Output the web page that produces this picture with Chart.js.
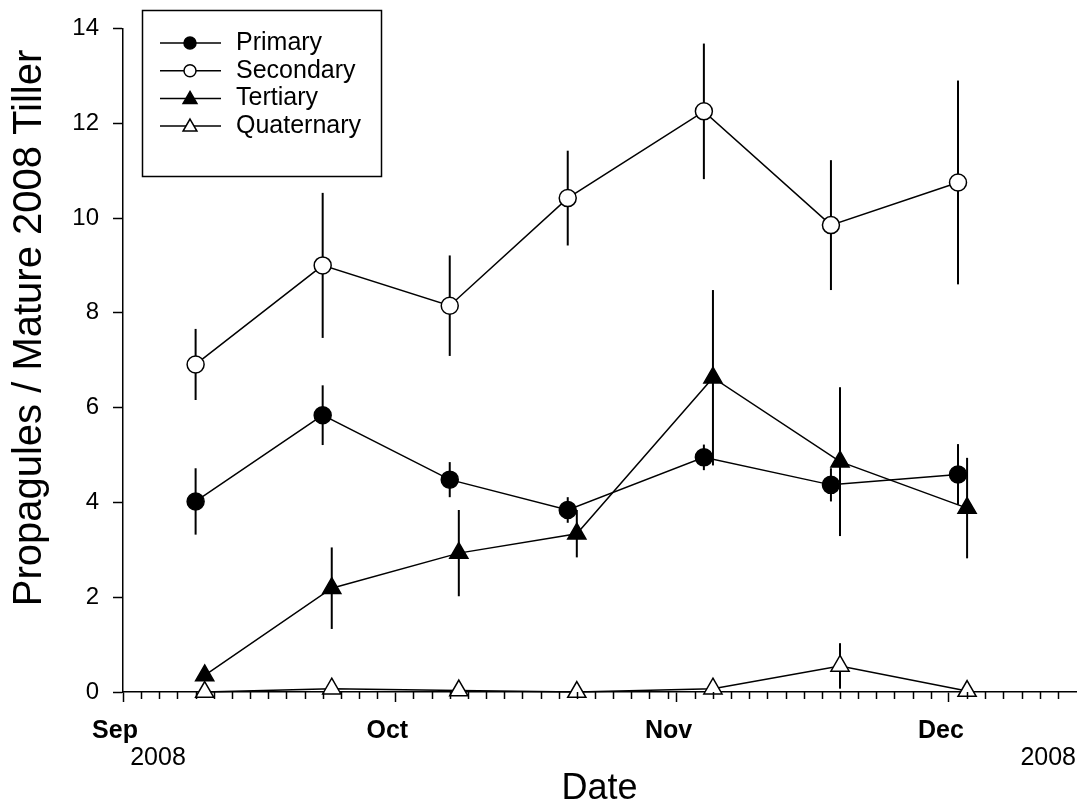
<!DOCTYPE html>
<html>
<head>
<meta charset="utf-8">
<script src="https://cdn.jsdelivr.net/npm/chart.js@4.4.1/dist/chart.umd.min.js"></script>
<style>
  html, body { margin: 0; padding: 0; background: #ffffff; }
  #c { display: block; }
</style>
</head>
<body>
<canvas id="c" width="1088" height="811"></canvas>
<script>
// ---- data ----
const startDate = '2008-09-01';
const endDate = '2008-12-15';
const monthStarts = ['2008-09-01', '2008-10-01', '2008-11-01', '2008-12-01'];
const monthLabels = ['Sep', 'Oct', 'Nov', 'Dec'];
const yearLabel = '2008';
const yTicksMax = 14;
const yTickStep = 2;

// sampling dates (primary/secondary counted one day before tertiary/quaternary)
const datesEarly = ['2008-09-09', '2008-09-23', '2008-10-07', '2008-10-20', '2008-11-04', '2008-11-18', '2008-12-02'];
const datesLate  = ['2008-09-10', '2008-09-24', '2008-10-08', '2008-10-21', '2008-11-05', '2008-11-19', '2008-12-03'];

const seriesNames = ['Primary', 'Secondary', 'Tertiary', 'Quaternary'];
const primary       = [4.02, 5.84, 4.48, 3.84, 4.95, 4.37, 4.59];
const primaryErr    = [0.70, 0.63, 0.37, 0.27, 0.27, 0.35, 0.64];
const secondary     = [6.91, 9.00, 8.15, 10.42, 12.25, 9.85, 10.75];
const secondaryErr  = [0.75, 1.53, 1.06, 1.00, 1.43, 1.37, 2.15];
const tertiary      = [0.35, 2.19, 2.93, 3.34, 6.63, 4.86, 3.88];
const tertiaryErr   = [0.05, 0.86, 0.91, 0.50, 1.85, 1.57, 1.06];
const quaternary    = [0.00, 0.07, 0.03, 0.00, 0.07, 0.55, 0.02];
const quaternaryErr = [0.00, 0.04, 0.02, 0.00, 0.04, 0.48, 0.02];

const xTitle = 'Date';
const yTitle = 'Propagules / Mature 2008 Tiller';

// ---- helpers ----
const FONT = "'Liberation Sans', Arial, Helvetica, sans-serif";
const DAY = 86400000;
const t0 = Date.parse(startDate + 'T00:00:00Z');
const dayOf = s => (Date.parse(s + 'T00:00:00Z') - t0) / DAY;
const toPoints = (dates, vals) => dates.map((d, i) => ({ x: dayOf(d), y: vals[i] }));
const errorSets = [primaryErr, secondaryErr, tertiaryErr, quaternaryErr];

function series(label, dates, vals, style, filled) {
  return {
    label,
    data: toPoints(dates, vals),
    borderColor: '#000',
    borderWidth: 1.5,
    pointStyle: style,
    pointRadius: style === 'circle' ? 8.5 : 10.5,
    pointHoverRadius: style === 'circle' ? 8.5 : 10.5,
    pointBorderWidth: 1.5,
    pointBorderColor: '#000',
    pointBackgroundColor: filled ? '#000' : '#fff',
    fill: false,
    tension: 0,
    clip: false
  };
}

// vertical error bars, drawn under the lines and symbols
const errorBars = {
  id: 'errorBars',
  beforeDatasetsDraw(chart) {
    const { ctx } = chart;
    const ys = chart.scales.y;
    ctx.save();
    ctx.strokeStyle = '#000';
    ctx.lineWidth = 2;
    chart.data.datasets.forEach((ds, i) => {
      const meta = chart.getDatasetMeta(i);
      meta.data.forEach((pt, j) => {
        const v = ds.data[j].y, e = errorSets[i][j];
        if (!e) return;
        ctx.beginPath();
        ctx.moveTo(pt.x, ys.getPixelForValue(v + e));
        ctx.lineTo(pt.x, ys.getPixelForValue(v - e));
        ctx.stroke();
      });
    });
    ctx.restore();
  }
};

// minor date ticks every two days, year captions, y title and the legend box
const decorations = {
  id: 'decorations',
  afterDraw(chart) {
    const { ctx } = chart;
    const xs = chart.scales.x;
    const area = chart.chartArea;
    ctx.save();

    // minor ticks
    ctx.strokeStyle = '#000';
    ctx.lineWidth = 1.5;
    const starts = monthStarts.map(dayOf).concat([dayOf(endDate)]);
    for (let m = 0; m < starts.length - 1; m++) {
      for (let d = starts[m] + 2; d < starts[m + 1]; d += 2) {
        const px = Math.round(xs.getPixelForValue(d)) + 0.5;
        ctx.beginPath();
        ctx.moveTo(px, area.bottom);
        ctx.lineTo(px, area.bottom + 7);
        ctx.stroke();
      }
    }

    // year captions under the first month and at the right end
    ctx.fillStyle = '#000';
    ctx.font = '25px ' + FONT;
    ctx.textBaseline = 'middle';
    ctx.textAlign = 'center';
    ctx.fillText(yearLabel, xs.getPixelForValue(dayOf(monthStarts[0])) + 35, 758);
    ctx.textAlign = 'right';
    ctx.fillText(yearLabel, xs.getPixelForValue(dayOf(endDate)), 758);

    // y axis title
    ctx.save();
    ctx.translate(30, 328);
    ctx.rotate(-Math.PI / 2);
    ctx.textAlign = 'center';
    ctx.textBaseline = 'middle';
    ctx.font = '40px ' + FONT;
    ctx.fillText(yTitle, 0, 0);
    ctx.restore();

    // legend
    ctx.lineWidth = 1.5;
    ctx.strokeRect(142.5, 10.5, 239, 166);
    chart.data.datasets.forEach((ds, i) => {
      const cy = 43 + i * 27.7;
      ctx.beginPath();
      ctx.moveTo(160, cy);
      ctx.lineTo(221, cy);
      ctx.lineWidth = 1.5;
      ctx.stroke();
      ctx.fillStyle = ds.pointBackgroundColor;
      ctx.strokeStyle = '#000';
      Chart.helpers.drawPoint(ctx, {
        pointStyle: ds.pointStyle,
        radius: ds.pointStyle === 'circle' ? 6 : 8,
        rotation: 0,
        borderWidth: 1.5
      }, 190, ds.pointStyle === 'circle' ? cy : cy + 1);
      ctx.fillStyle = '#000';
      ctx.font = '25px ' + FONT;
      ctx.textAlign = 'left';
      ctx.textBaseline = 'middle';
      ctx.fillText(ds.label, 236, cy);
    });

    ctx.restore();
  }
};

new Chart(document.getElementById('c'), {
  type: 'line',
  data: {
    datasets: [
      series(seriesNames[0], datesEarly, primary, 'circle', true),
      series(seriesNames[1], datesEarly, secondary, 'circle', false),
      series(seriesNames[2], datesLate, tertiary, 'triangle', true),
      series(seriesNames[3], datesLate, quaternary, 'triangle', false)
    ]
  },
  options: {
    responsive: false,
    animation: false,
    devicePixelRatio: 1,
    layout: { padding: { top: 20, right: 5, left: 0, bottom: 0 } },
    plugins: {
      legend: { display: false },
      tooltip: { enabled: false }
    },
    scales: {
      x: {
        type: 'linear',
        min: dayOf(startDate),
        max: dayOf(endDate),
        afterBuildTicks(scale) {
          scale.ticks = monthStarts.map(s => ({ value: dayOf(s) }));
        },
        afterFit(scale) { scale.height = 119; },
        ticks: {
          autoSkip: false,
          maxRotation: 0,
          labelOffset: -8,
          padding: 14,
          color: '#000',
          font: { family: FONT, size: 25, weight: 'bold' },
          callback: (v, i) => monthLabels[i]
        },
        grid: {
          drawOnChartArea: false,
          drawTicks: true,
          tickLength: 10,
          tickColor: '#000',
          tickWidth: 1.5
        },
        border: { display: true, color: '#000', width: 1.5 },
        title: {
          display: true,
          text: xTitle,
          color: '#000',
          font: { family: FONT, size: 36 },
          padding: { top: 0, bottom: 0 }
        }
      },
      y: {
        min: 0,
        max: yTicksMax,
        afterFit(scale) { scale.width = 123; },
        ticks: {
          stepSize: yTickStep,
          padding: 14,
          color: '#000',
          font: { family: FONT, size: 24 }
        },
        grid: {
          drawOnChartArea: false,
          drawTicks: true,
          tickLength: 10,
          tickColor: '#000',
          tickWidth: 1.5
        },
        border: { display: true, color: '#000', width: 1.5 }
      }
    }
  },
  plugins: [errorBars, decorations]
});
</script>
</body>
</html>
